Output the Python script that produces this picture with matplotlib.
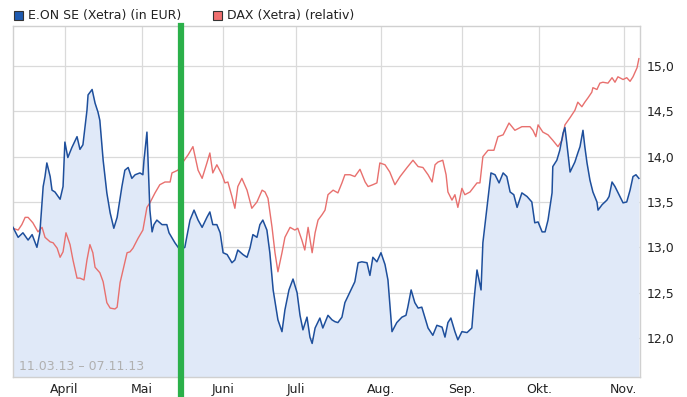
import matplotlib
matplotlib.use("Agg")
import matplotlib.pyplot as plt
from matplotlib.patches import Rectangle
import numpy as np
import pandas as pd

# ---- data (x = trading day since 11.03.13 on Xetra) ----
eon_x = [0.0, 1.4, 2.7, 4.1, 5.2, 6.5, 7.3, 8.2, 8.7, 9.2, 10.1, 10.6, 11.4, 12.8, 13.6, 14.1, 14.9, 16.0,
         17.4, 18.2, 19.0, 20.1, 20.4, 21.5, 22.3, 23.1, 23.6, 24.5, 25.5, 26.4, 27.4, 28.3, 29.6, 30.4,
         31.3, 32.3, 33.2, 34.5, 35.3, 35.6, 36.4, 36.7, 37.2, 37.8, 38.3, 39.1, 40.5, 41.8, 42.4, 44.0,
         45.4, 46.7, 48.1, 49.2, 50.3, 51.4, 52.7, 53.5, 54.3, 55.4, 56.3, 57.1, 58.2, 59.5, 60.3, 61.1,
         62.5, 63.6, 64.4, 65.2, 66.3, 67.1, 67.9, 69.0, 69.8, 70.7, 72.0, 73.1, 73.9, 75.0, 76.1, 77.2,
         78.0, 78.8, 79.9, 80.7, 81.3, 82.1, 83.4, 84.2, 85.6, 86.7, 87.5, 88.3, 89.4, 90.2, 91.6, 92.9,
         93.8, 94.8, 96.2, 97.0, 97.8, 98.9, 100.0, 101.1, 101.9, 103.0, 104.3, 105.7, 106.8, 107.3,
         108.2, 109.2, 110.1, 111.1, 112.0, 112.8, 114.1, 115.2, 116.6, 117.4, 118.2, 119.0, 120.1,
         120.9, 122.0, 123.4, 124.7, 125.3, 126.1, 127.2, 127.7, 128.8, 129.9, 131.0, 132.1, 133.2,
         134.2, 135.1, 136.1, 137.0, 138.3, 139.7, 141.0, 141.8, 142.7, 143.8, 144.6, 145.4, 146.5,
         146.7, 147.8, 148.6, 149.5, 150.0, 150.5, 151.4, 152.7, 153.5, 154.1, 154.9, 155.4, 156.0,
         156.8, 157.6, 158.7, 159.0, 160.1, 161.4, 162.0, 162.8, 163.6, 164.7, 165.8, 166.8, 167.7,
         168.5, 169.3, 170.1]
eon_vals = [13.22, 13.11, 13.16, 13.08, 13.14, 13.00, 13.16, 13.67, 13.78, 13.93, 13.78, 13.63, 13.61, 13.53,
            13.67, 14.16, 13.99, 14.10, 14.22, 14.08, 14.13, 14.51, 14.68, 14.74, 14.59, 14.49, 14.40,
            13.96, 13.60, 13.38, 13.21, 13.33, 13.67, 13.85, 13.88, 13.76, 13.80, 13.82, 13.80, 13.96,
            14.27, 13.96, 13.41, 13.17, 13.25, 13.30, 13.25, 13.25, 13.16, 13.05, 12.97, 13.00, 13.30,
            13.41, 13.30, 13.22, 13.33, 13.39, 13.25, 13.25, 13.16, 12.94, 12.92, 12.83, 12.86, 12.97,
            12.92, 12.89, 12.99, 13.14, 13.11, 13.25, 13.30, 13.19, 12.94, 12.53, 12.20, 12.07, 12.31,
            12.53, 12.65, 12.50, 12.25, 12.09, 12.23, 12.01, 11.94, 12.11, 12.22, 12.11, 12.25, 12.20,
            12.18, 12.17, 12.23, 12.39, 12.51, 12.62, 12.83, 12.84, 12.83, 12.69, 12.89, 12.84, 12.94,
            12.81, 12.64, 12.07, 12.17, 12.23, 12.25, 12.34, 12.53, 12.39, 12.33, 12.34, 12.22, 12.11,
            12.03, 12.14, 12.12, 12.01, 12.17, 12.22, 12.07, 11.98, 12.07, 12.06, 12.11, 12.42, 12.75,
            12.53, 13.05, 13.44, 13.82, 13.80, 13.71, 13.82, 13.78, 13.61, 13.58, 13.44, 13.60, 13.56,
            13.50, 13.27, 13.28, 13.17, 13.17, 13.30, 13.60, 13.89, 13.96, 14.07, 14.26, 14.32, 14.15,
            13.83, 13.94, 14.04, 14.11, 14.29, 14.11, 13.93, 13.74, 13.61, 13.50, 13.41, 13.47, 13.52,
            13.56, 13.72, 13.67, 13.58, 13.49, 13.50, 13.63, 13.78, 13.80, 13.76]

dax_x = [0.0, 1.4, 2.4, 3.3, 4.1, 5.4, 6.8, 7.9, 8.7, 10.1, 10.9, 12.0, 12.8, 13.6, 14.4, 15.5, 16.3, 17.4,
         18.2, 19.3, 20.1, 20.9, 21.7, 22.3, 23.6, 24.5, 25.5, 26.4, 27.7, 28.3, 29.1, 29.9, 31.0, 31.8,
         32.6, 34.0, 35.3, 36.4, 37.2, 38.6, 39.9, 41.3, 42.7, 43.2, 44.8, 46.2, 47.6, 48.9, 50.3, 51.4,
         52.7, 53.5, 54.3, 55.4, 56.8, 57.6, 58.4, 59.5, 60.3, 61.1, 62.2, 63.6, 64.9, 66.3, 67.7, 68.5,
         69.3, 70.4, 71.2, 72.0, 73.1, 73.9, 75.3, 76.6, 77.4, 78.5, 79.3, 80.2, 81.3, 82.1, 82.9, 84.0,
         84.8, 85.6, 87.0, 88.3, 89.4, 90.2, 91.6, 92.9, 94.3, 95.7, 96.5, 97.8, 98.9, 99.7, 101.1,
         102.4, 103.8, 105.2, 107.1, 108.7, 110.1, 111.4, 112.8, 113.9, 114.7, 115.5, 116.8, 117.7,
         118.2, 119.3, 120.1, 120.9, 122.0, 122.8, 124.2, 126.1, 126.9, 127.7, 129.1, 130.7, 131.8,
         133.2, 134.8, 136.4, 138.3, 140.5, 141.3, 142.1, 142.7, 144.0, 145.4, 146.7, 148.1, 149.2,
         150.0, 151.4, 152.7, 153.5, 154.6, 155.4, 156.3, 157.3, 157.6, 158.7, 159.5, 160.3, 161.7,
         162.8, 163.6, 164.4, 165.8, 166.8, 167.7, 168.5, 169.6, 170.1]
dax_vals = [13.21, 13.19, 13.25, 13.33, 13.33, 13.27, 13.17, 13.22, 13.11, 13.06, 13.05, 12.99, 12.89, 12.95,
            13.16, 13.03, 12.86, 12.66, 12.66, 12.64, 12.86, 13.03, 12.94, 12.78, 12.72, 12.62, 12.39,
            12.33, 12.32, 12.34, 12.61, 12.75, 12.94, 12.95, 12.99, 13.10, 13.19, 13.44, 13.49, 13.60,
            13.69, 13.72, 13.72, 13.82, 13.85, 13.94, 14.02, 14.11, 13.85, 13.76, 13.93, 14.04, 13.82,
            13.91, 13.80, 13.71, 13.72, 13.56, 13.43, 13.67, 13.76, 13.63, 13.43, 13.50, 13.63, 13.61,
            13.54, 13.22, 12.94, 12.73, 12.94, 13.11, 13.22, 13.19, 13.21, 13.08, 12.97, 13.22, 12.94,
            13.16, 13.30, 13.36, 13.41, 13.58, 13.63, 13.60, 13.71, 13.80, 13.80, 13.78, 13.86, 13.72,
            13.67, 13.69, 13.71, 13.93, 13.91, 13.83, 13.69, 13.78, 13.88, 13.96, 13.89, 13.88, 13.80,
            13.72, 13.91, 13.94, 13.96, 13.80, 13.61, 13.52, 13.58, 13.44, 13.65, 13.58, 13.61, 13.71,
            13.71, 14.00, 14.07, 14.07, 14.22, 14.24, 14.37, 14.29, 14.33, 14.33, 14.29, 14.22, 14.35,
            14.27, 14.24, 14.18, 14.11, 14.18, 14.35, 14.43, 14.51, 14.60, 14.55, 14.60, 14.65, 14.71,
            14.76, 14.74, 14.81, 14.82, 14.81, 14.87, 14.82, 14.88, 14.85, 14.87, 14.83, 14.88, 14.98,
            15.08]

month_labels = ["April", "Mai", "Juni", "Juli", "Aug.", "Sep.", "Okt.", "Nov."]
month_starts = ["2013-04", "2013-05", "2013-06", "2013-07", "2013-08", "2013-09", "2013-10", "2013-11"]
y_ticks = [12.0, 12.5, 13.0, 13.5, 14.0, 14.5, 15.0]
series_names = ["E.ON SE (Xetra) (in EUR)", "DAX (Xetra) (relativ)"]
period_text = "11.03.13 – 07.11.13"
marker_date = "2013-05-17"

# ---- Xetra trading calendar ----
holidays = pd.to_datetime(["2013-03-29", "2013-04-01", "2013-05-01"])
tdays = pd.bdate_range("2013-03-11", "2013-11-07")
tdays = tdays[~tdays.isin(holidays)]
tidx = pd.Series(np.arange(len(tdays)), index=tdays)
month_pos = [int(tidx[tidx.index.strftime("%Y-%m") == m].iloc[0]) for m in month_starts]
marker_pos = float(tidx[pd.Timestamp(marker_date)]) - 0.35

# ---- figure ----
W, H = 687, 397
fig = plt.figure(figsize=(W / 100, H / 100), dpi=100)
ax_l, ax_r, ax_t, ax_b = 13, 640, 26, 377
ax = fig.add_axes([ax_l / W, 1 - ax_b / H, (ax_r - ax_l) / W, (ax_b - ax_t) / H])

blue = "#1e4f9c"
red = "#e8706e"
fill = "#e0e9f8"
grid = "#dadada"
FS = 9

ax.fill_between(eon_x, eon_vals, 11.0, color=fill, lw=0, zorder=1)
ax.plot(dax_x, dax_vals, color=red, lw=1.0, zorder=3)
ax.plot(eon_x, eon_vals, color=blue, lw=1.1, zorder=4)

ax.set_xlim(0, 170.4)
ax.set_ylim(11.57, 15.44)

ax.set_xticks(month_pos)
ax.set_xticklabels(month_labels)
ax.set_yticks(y_ticks)
ax.set_yticklabels([f"{v:.1f}".replace(".", ",") for v in y_ticks])
ax.yaxis.tick_right()
ax.tick_params(axis="both", length=0, labelsize=FS, colors="#222222")
ax.tick_params(axis="y", pad=5)
ax.tick_params(axis="x", pad=4)
ax.grid(True, color=grid, lw=0.9, zorder=2)
ax.set_axisbelow(True)
for s in ax.spines.values():
    s.set_color("#d0d0d0")
    s.set_linewidth(1.0)

ax.text(0.009, 0.01, period_text, transform=ax.transAxes, fontsize=FS, color="#b0b0b0",
        ha="left", va="bottom", zorder=5)

# green marker line extending below the axis
ax.axvline(marker_pos, ymin=-0.055, ymax=1.0, color="#2bb04a", lw=4.5, clip_on=False, zorder=6)

# legend
def legend_item(px, text, color):
    fig.patches.append(Rectangle((px / W, 1 - 19.5 / H), 8.5 / W, 8.5 / H, transform=fig.transFigure,
                                 facecolor=color, edgecolor="#333333", lw=0.8))
    fig.text((px + 14) / W, 1 - 15 / H, text, fontsize=FS, color="#222222", ha="left", va="center")

legend_item(14, series_names[0], "#1f5bb0")
legend_item(213, series_names[1], "#f07070")

fig.savefig("out.png", dpi=100)
